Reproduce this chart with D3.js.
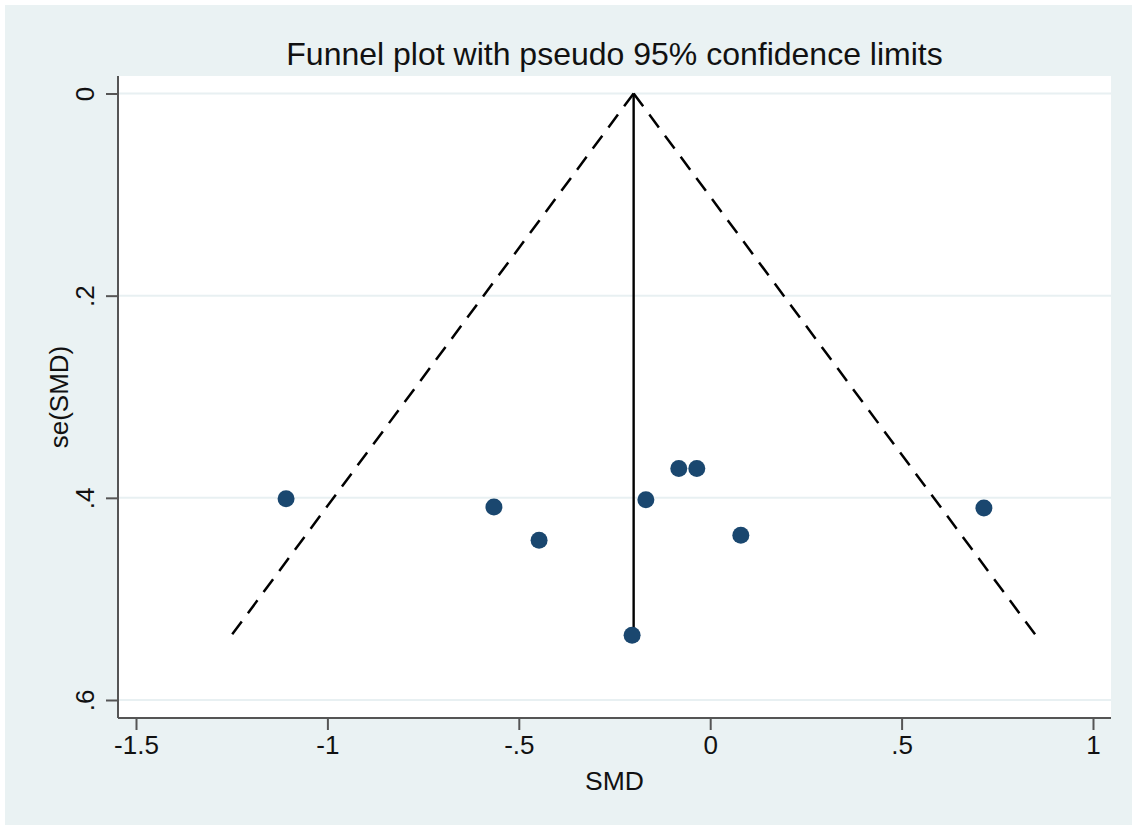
<!DOCTYPE html>
<html>
<head>
<meta charset="utf-8">
<script src="https://cdn.jsdelivr.net/npm/d3@7"></script>
<style>
  body { margin: 0; background: #fff; }
  text { font-family: "Liberation Sans", Arial, sans-serif; fill: #111; }
</style>
</head>
<body>
<svg id="mainsvg" width="1132" height="825"></svg>
<script>
// study estimates
const smd = [-1.108, -0.565, -0.447, -0.204, -0.168, -0.082, -0.035, 0.080, 0.715]
const se  = [0.401, 0.409, 0.442, 0.536, 0.402, 0.371, 0.371, 0.437, 0.410]
const pooled = -0.2
const xTicks = [-1.5, -1, -0.5, 0, 0.5, 1]
const yTicks = [0, 0.2, 0.4, 0.6]
const fmt = d => d === 0 ? '0' : String(d).replace('0.', '.')

const svg = d3.select('#mainsvg')
const plot = {left: 118, right: 1111, top: 76, bottom: 718}

svg.append('rect')
  .attr('x', 5).attr('y', 5)
  .attr('width', 1132).attr('height', 825)
  .attr('fill', '#eaf2f3')

svg.append('rect')
  .attr('x', plot.left).attr('y', plot.top)
  .attr('width', plot.right - plot.left).attr('height', plot.bottom - plot.top)
  .attr('fill', '#fff')

const x = d3.scaleLinear().domain([-1.5, 1]).range([136, 1093])
const y = d3.scaleLinear().domain([0, 0.6]).range([93.5, 700])

// grid lines
svg.append('g').selectAll('line').data(yTicks).join('line')
  .attr('x1', plot.left).attr('x2', plot.right)
  .attr('y1', d => y(d)).attr('y2', d => y(d))
  .attr('stroke', '#e8f0f2').attr('stroke-width', 2)

// funnel limits, each side drawn from the apex down
const seMax = d3.max(se)
const sides = [
  [[pooled, 0], [pooled - 1.96 * seMax, seMax]],
  [[pooled, 0], [pooled + 1.96 * seMax, seMax]]
]
const line = d3.line().x(d => x(d[0])).y(d => y(d[1]))
svg.append('g').selectAll('path').data(sides).join('path')
  .attr('d', line)
  .attr('fill', 'none')
  .attr('stroke', '#000')
  .attr('stroke-width', 2.5)
  .attr('stroke-dasharray', '16,10.3')

svg.append('line')
  .attr('x1', x(pooled)).attr('x2', x(pooled))
  .attr('y1', y(0)).attr('y2', y(seMax))
  .attr('stroke', '#000').attr('stroke-width', 2.4)

// points
svg.append('g').selectAll('circle').data(smd).join('circle')
  .attr('cx', d => x(d))
  .attr('cy', (d, i) => y(se[i]))
  .attr('r', 8.5)
  .attr('fill', '#1a476f')

// axes
const xAxis = d3.axisBottom(x).tickValues(xTicks).tickFormat(fmt).tickSize(12).tickPadding(6)
const gx = svg.append('g').attr('transform', `translate(0,${plot.bottom})`).call(xAxis)
gx.select('.domain').attr('d', `M${plot.left},0H${plot.right}`)
gx.selectAll('line, path').attr('stroke', '#555').attr('stroke-width', 2)
gx.selectAll('text').attr('font-size', 26).attr('fill', '#111')
  .attr('font-family', '"Liberation Sans", Arial, sans-serif')

const yAxis = d3.axisLeft(y).tickValues(yTicks).tickFormat(fmt).tickSize(12)
const gy = svg.append('g').attr('transform', `translate(${plot.left},0)`).call(yAxis)
gy.select('.domain').attr('d', `M0,${plot.top}V${plot.bottom}`)
gy.selectAll('line, path').attr('stroke', '#555').attr('stroke-width', 2)
gy.selectAll('text')
  .attr('x', null).attr('dy', null)
  .attr('text-anchor', 'middle')
  .attr('transform', 'translate(-24,0) rotate(-90)')
  .attr('font-size', 26).attr('fill', '#111')
  .attr('font-family', '"Liberation Sans", Arial, sans-serif')

// labels
svg.append('text')
  .attr('x', (plot.left + plot.right) / 2).attr('y', 65)
  .attr('text-anchor', 'middle').attr('font-size', 32)
  .text('Funnel plot with pseudo 95% confidence limits')

svg.append('text')
  .attr('x', (plot.left + plot.right) / 2).attr('y', 790)
  .attr('text-anchor', 'middle').attr('font-size', 26.5)
  .text('SMD')

svg.append('text')
  .attr('transform', `translate(68,${(plot.top + plot.bottom) / 2}) rotate(-90)`)
  .attr('text-anchor', 'middle').attr('font-size', 26)
  .text('se(SMD)')
</script>
</body>
</html>
